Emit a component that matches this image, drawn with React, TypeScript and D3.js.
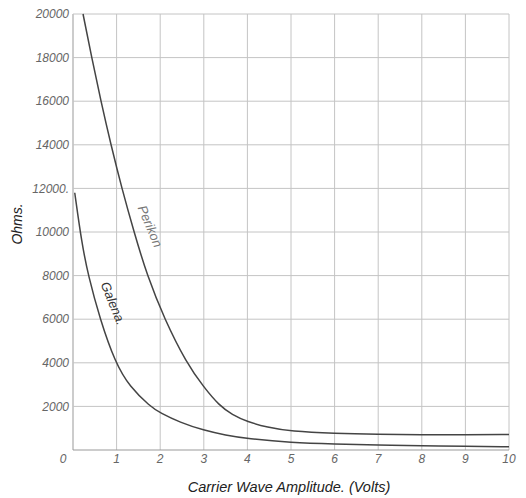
import React from "react";
import * as d3 from "d3";

const xTicks = [0, 1, 2, 3, 4, 5, 6, 7, 8, 9, 10];
const yTicks = [0, 2000, 4000, 6000, 8000, 10000, 12000, 14000, 16000, 18000, 20000];
const yTickLabels = ["", "2000", "4000", "6000", "8000", "10000", "12000.", "14000", "16000", "18000", "20000"];

const perikon: [number, number][] = [
  [0.23, 20000], [0.43, 18000], [0.64, 16000], [0.87, 14000], [1.12, 12000],
  [1.4, 10000], [1.7, 8000], [2.1, 6000], [2.6, 4000], [3, 2880], [3.35, 2050],
  [3.65, 1620], [4, 1300], [4.45, 1040], [5, 850], [6, 760], [7, 720], [8, 700], [9, 690], [10, 710],
];
const galena: [number, number][] = [
  [0.04, 11800], [0.2, 9500], [0.35, 8000], [0.62, 6000], [0.97, 4000],
  [1.3, 2900], [1.77, 2000], [2, 1700], [2.45, 1270], [3, 900], [3.5, 680], [4, 520],
  [5, 330], [6, 270], [7, 230], [8, 200], [9, 170], [10, 150],
];

const W = 526, H = 498;
const X0 = 73, X1 = 509, Y0 = 450, Y1 = 14;

export default function App() {
  const x = d3.scaleLinear().domain([0, 10]).range([X0, X1]);
  const y = d3.scaleLinear().domain([0, 20000]).range([Y0, Y1]);
  const line = d3.line<[number, number]>().x(d => x(d[0])).y(d => y(d[1])).curve(d3.curveBasis);
  const font = "'Liberation Sans', Arial, sans-serif";
  return (
    <svg width={W} height={H} style={{ position: "absolute", left: 0, top: 0, background: "#fff" }}>
      <g>
        {xTicks.map(t => (
          <line key={"vx" + t} x1={x(t)} x2={x(t)} y1={Y1} y2={Y0} stroke={t === 0 ? "#999" : "#c4c4c4"} strokeWidth={1} />
        ))}
        {yTicks.map(t => (
          <line key={"hy" + t} x1={X0} x2={X1} y1={y(t)} y2={y(t)} stroke={t === 0 ? "#999" : "#c4c4c4"} strokeWidth={1} />
        ))}
      </g>
      <path d={line(perikon) || ""} fill="none" stroke="#444" strokeWidth={1.5} />
      <path d={line(galena) || ""} fill="none" stroke="#444" strokeWidth={1.5} />
      <g fontFamily={font} fontStyle="italic" fontSize={12} fill="#666">
        {yTicks.map((t, i) => (
          <text key={"yl" + t} x={X0 - 4} y={y(t)} dy="0.35em" textAnchor="end">{yTickLabels[i]}</text>
        ))}
        {xTicks.map(t => (
          <text key={"xl" + t} x={t === 0 ? X0 - 10 : x(t)} y={Y0 + 13} textAnchor="middle">{String(t)}</text>
        ))}
      </g>
      <text transform="translate(146,228) rotate(67)" fontFamily={font} fontStyle="italic" fontSize={13} fill="#777" textAnchor="middle">Perikon</text>
      <text transform="translate(109,305) rotate(68)" fontFamily={font} fontStyle="italic" fontSize={13} fill="#333" textAnchor="middle">Galena.</text>
      <text transform="translate(22,224) rotate(-90)" fontFamily={font} fontStyle="italic" fontSize={14} fill="#222" textAnchor="middle">Ohms.</text>
      <text x={289} y={492} fontFamily={font} fontStyle="italic" fontSize={14.5} fill="#222" textAnchor="middle">Carrier Wave Amplitude. (Volts)</text>
    </svg>
  );
}
